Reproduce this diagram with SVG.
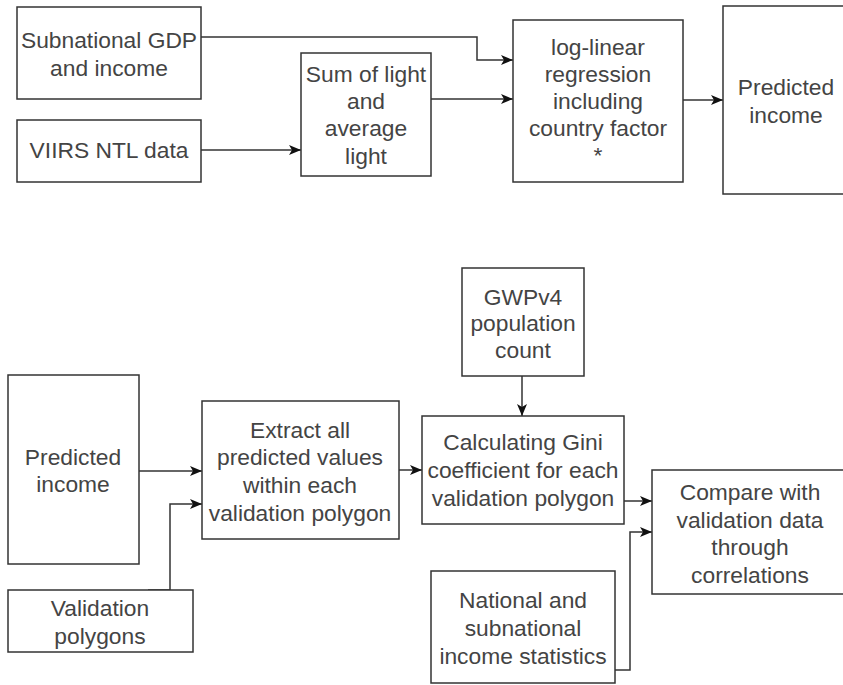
<svg xmlns="http://www.w3.org/2000/svg" width="843" height="685" viewBox="0 0 843 685">
<style>
  .box { fill: #ffffff; stroke: #333333; stroke-width: 1.5; }
  .lbl { font-family: "Liberation Sans", Arial, sans-serif; font-size: 22.8px; fill: #444444; text-anchor: middle; }
  .edge { fill: none; stroke: #333333; stroke-width: 1.5; }
</style>
<defs>
  <marker id="arr" markerUnits="userSpaceOnUse" markerWidth="13" markerHeight="12" refX="12" refY="6" orient="auto">
    <path d="M0,1 L12,6 L0,11 L3,6 z" fill="#111111"/>
  </marker>
</defs>
<rect width="843" height="685" fill="#ffffff"/>

<g id="edges">
  <path class="edge" d="M201,37 L477,37 L477,60 L513,60" marker-end="url(#arr)"/>
  <path class="edge" d="M201,150 L301,150" marker-end="url(#arr)"/>
  <path class="edge" d="M431,99 L513,99" marker-end="url(#arr)"/>
  <path class="edge" d="M683,100 L723,100" marker-end="url(#arr)"/>
  <path class="edge" d="M139,471 L202,471" marker-end="url(#arr)"/>
  <path class="edge" d="M148,590 L170,590 L170,504 L202,504" marker-end="url(#arr)"/>
  <path class="edge" d="M399,470 L422,470" marker-end="url(#arr)"/>
  <path class="edge" d="M522,376 L522,416" marker-end="url(#arr)"/>
  <path class="edge" d="M624,501 L652,501" marker-end="url(#arr)"/>
  <path class="edge" d="M615,670 L630,670 L630,532 L652,532" marker-end="url(#arr)"/>
</g>

<g id="subnational">
  <rect class="box" x="17" y="7" width="184" height="92"/>
  <text class="lbl" x="109" y="48">Subnational GDP</text>
  <text class="lbl" x="109" y="76">and income</text>
</g>
<g id="viirs">
  <rect class="box" x="17" y="120" width="184" height="62"/>
  <text class="lbl" x="109" y="158">VIIRS NTL data</text>
</g>
<g id="sumlight">
  <rect class="box" x="301" y="53" width="130" height="123"/>
  <text class="lbl" x="366" y="82">Sum of light</text>
  <text class="lbl" x="366" y="109">and</text>
  <text class="lbl" x="366" y="136">average</text>
  <text class="lbl" x="366" y="164">light</text>
</g>
<g id="regression">
  <rect class="box" x="513" y="20" width="170" height="162"/>
  <text class="lbl" x="598" y="55">log-linear</text>
  <text class="lbl" x="598" y="82">regression</text>
  <text class="lbl" x="598" y="109">including</text>
  <text class="lbl" x="598" y="136">country factor</text>
  <text class="lbl" x="598" y="163">*</text>
</g>
<g id="predicted-top">
  <rect class="box" x="723" y="6" width="126" height="188"/>
  <text class="lbl" x="786" y="95">Predicted</text>
  <text class="lbl" x="786" y="123">income</text>
</g>

<g id="predicted-bottom">
  <rect class="box" x="8" y="375" width="131" height="189"/>
  <text class="lbl" x="73" y="465">Predicted</text>
  <text class="lbl" x="73" y="492">income</text>
</g>
<g id="validation">
  <rect class="box" x="8" y="590" width="185" height="62"/>
  <text class="lbl" x="100" y="616">Validation</text>
  <text class="lbl" x="100" y="644">polygons</text>
</g>
<g id="extract">
  <rect class="box" x="202" y="401" width="197" height="138"/>
  <text class="lbl" x="300" y="438">Extract all</text>
  <text class="lbl" x="300" y="465">predicted values</text>
  <text class="lbl" x="300" y="493">within each</text>
  <text class="lbl" x="300" y="521">validation polygon</text>
</g>
<g id="gwp">
  <rect class="box" x="462" y="268" width="122" height="108"/>
  <text class="lbl" x="523" y="305">GWPv4</text>
  <text class="lbl" x="523" y="331">population</text>
  <text class="lbl" x="523" y="358">count</text>
</g>
<g id="gini">
  <rect class="box" x="422" y="416" width="202" height="108"/>
  <text class="lbl" x="523" y="450">Calculating Gini</text>
  <text class="lbl" x="523" y="478">coefficient for each</text>
  <text class="lbl" x="523" y="506">validation polygon</text>
</g>
<g id="compare">
  <rect class="box" x="652" y="470" width="196" height="124"/>
  <text class="lbl" x="750" y="500">Compare with</text>
  <text class="lbl" x="750" y="528">validation data</text>
  <text class="lbl" x="750" y="555">through</text>
  <text class="lbl" x="750" y="583">correlations</text>
</g>
<g id="national">
  <rect class="box" x="431" y="571" width="184" height="112"/>
  <text class="lbl" x="523" y="608">National and</text>
  <text class="lbl" x="523" y="636">subnational</text>
  <text class="lbl" x="523" y="664">income statistics</text>
</g>
</svg>
